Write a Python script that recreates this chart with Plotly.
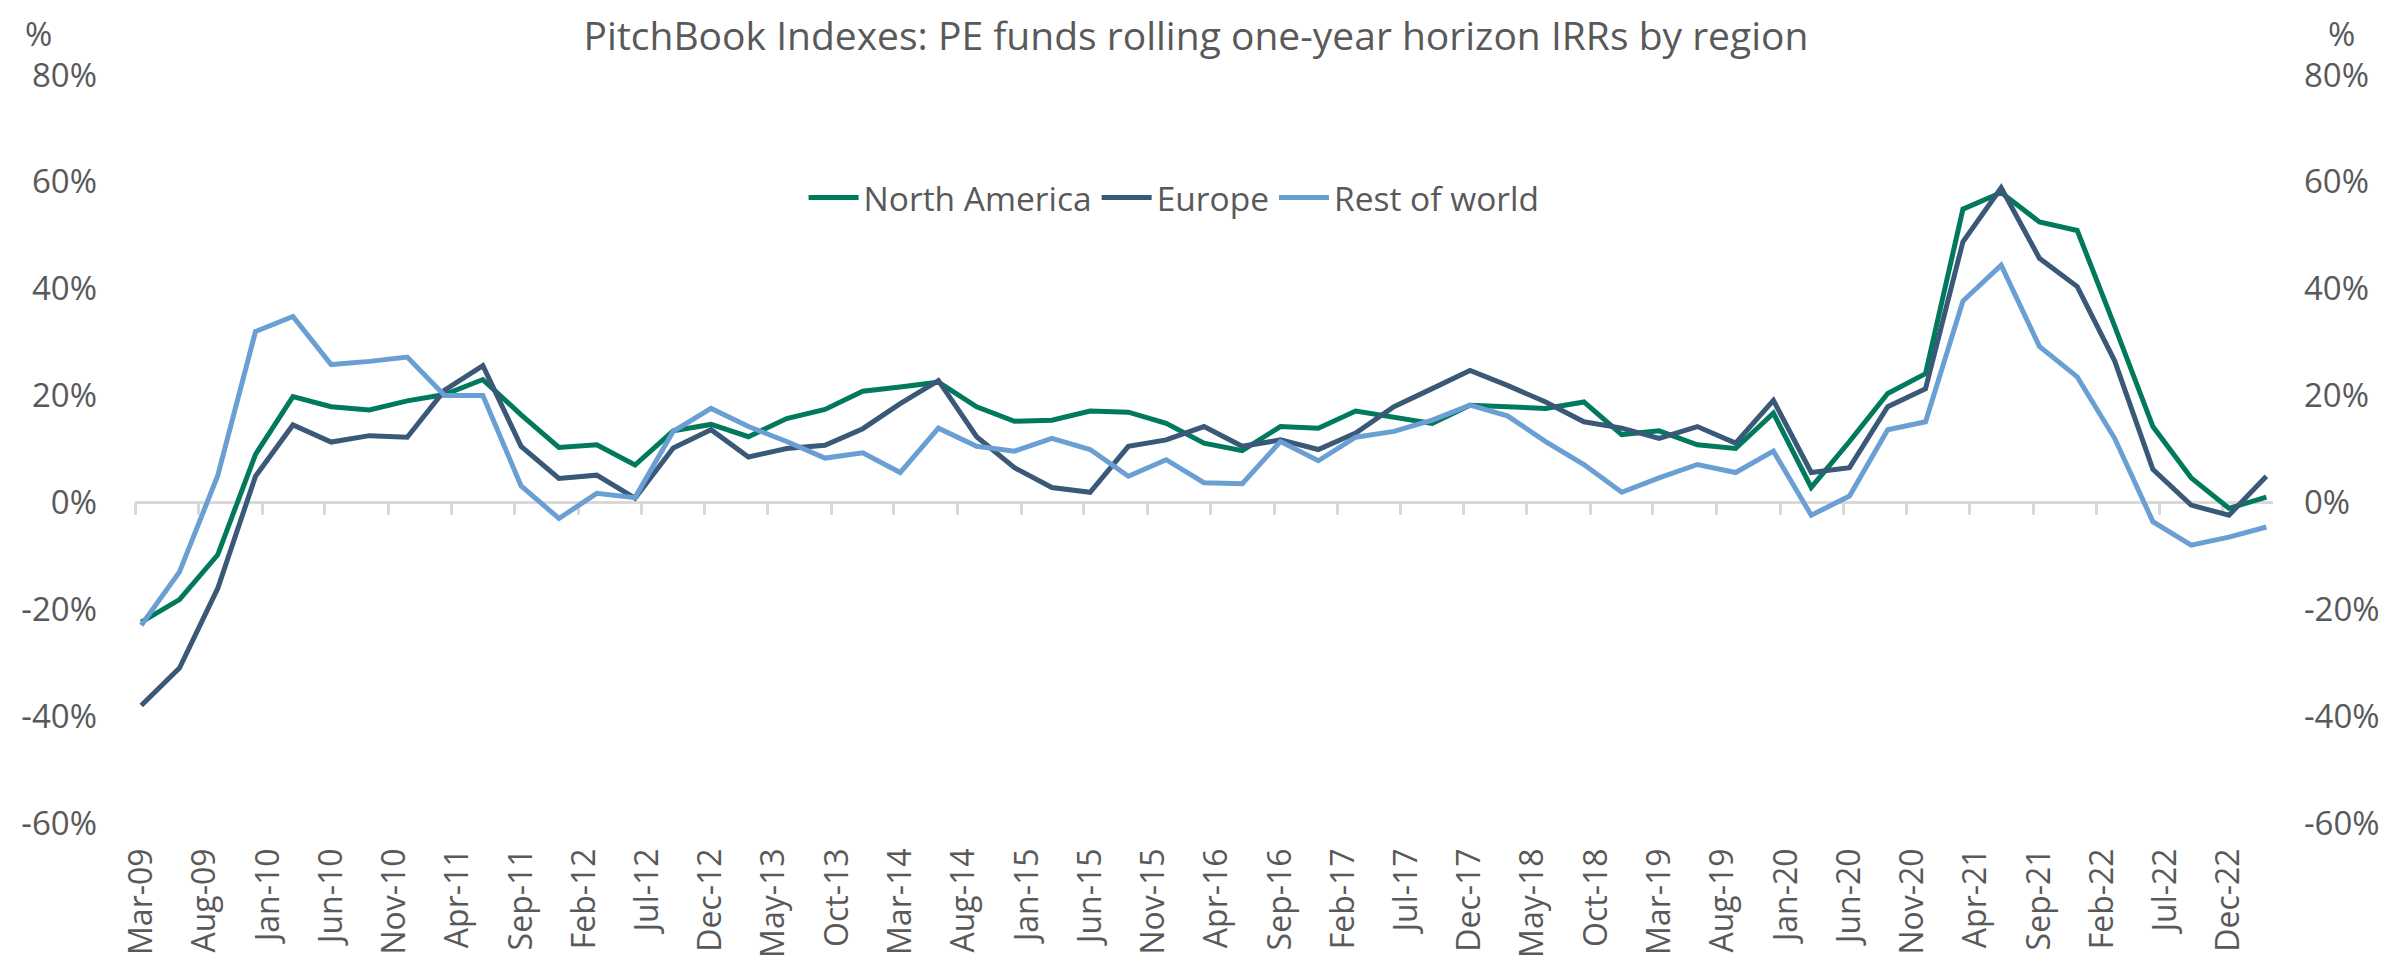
import pandas as pd
import plotly.graph_objects as go

# Quarter-end dates (Mar-09 .. Mar-23)
quarters = [f"{y}-{m:02d}" for y in range(2009, 2024) for m in (3, 6, 9, 12)]
quarters = [q for q in quarters if "2009-03" <= q <= "2023-03"]

north_america = [-22.4, -18.2, -9.8, 9.0, 19.8, 17.9, 17.3, 19.0, 20.2, 23.0,
                 16.4, 10.3, 10.8, 7.0, 13.4, 14.6, 12.3, 15.7, 17.4, 20.8,
                 21.6, 22.5, 17.9, 15.2, 15.4, 17.1, 16.9, 14.8, 11.1, 9.7,
                 14.2, 13.9, 17.1, 16.0, 14.8, 18.2, 18.0, 17.6, 18.8, 12.7,
                 13.4, 10.8, 10.1, 16.7, 2.8, 11.4, 20.4, 24.1, 54.9, 58.0,
                 52.5, 50.9, 33.0, 14.2, 4.6, -1.1, 1.0]
europe = [-38.0, -31.0, -16.1, 4.9, 14.5, 11.3, 12.5, 12.2, 21.0, 25.6,
          10.5, 4.5, 5.1, 0.8, 10.2, 13.6, 8.5, 10.1, 10.7, 13.8,
          18.5, 22.8, 12.3, 6.5, 2.8, 1.9, 10.5, 11.7, 14.2, 10.5,
          11.7, 9.9, 13.0, 17.9, 21.3, 24.7, 21.9, 18.8, 15.1, 13.9,
          12.0, 14.2, 11.1, 19.1, 5.6, 6.5, 17.9, 21.3, 48.8, 58.9,
          45.7, 40.4, 26.5, 6.2, -0.5, -2.4, 4.9]
rest_of_world = [-23.0, -13.0, 5.0, 32.0, 34.8, 25.8, 26.4, 27.2, 20.0, 20.0,
                 3.1, -3.0, 1.7, 0.9, 13.3, 17.6, 14.2, 11.4, 8.3, 9.3,
                 5.6, 13.9, 10.5, 9.6, 12.0, 9.9, 4.9, 8.0, 3.7, 3.5,
                 11.4, 7.8, 12.2, 13.3, 15.4, 18.2, 16.2, 11.4, 7.1, 1.9,
                 4.6, 7.1, 5.6, 9.6, -2.4, 1.2, 13.6, 15.1, 37.7, 44.4,
                 29.2, 23.5, 12.0, -3.6, -8.0, -6.5, -4.6]

x_tick_labels = ["Mar-09", "Aug-09", "Jan-10", "Jun-10", "Nov-10", "Apr-11", "Sep-11",
                 "Feb-12", "Jul-12", "Dec-12", "May-13", "Oct-13", "Mar-14", "Aug-14",
                 "Jan-15", "Jun-15", "Nov-15", "Apr-16", "Sep-16", "Feb-17", "Jul-17",
                 "Dec-17", "May-18", "Oct-18", "Mar-19", "Aug-19", "Jan-20", "Jun-20",
                 "Nov-20", "Apr-21", "Sep-21", "Feb-22", "Jul-22", "Dec-22"]
y_tick_values = [-60, -40, -20, 0, 20, 40, 60, 80]
y_tick_labels = ["-60%", "-40%", "-20%", "0%", "20%", "40%", "60%", "80%"]

names = ["North America", "Europe", "Rest of world"]
colors = ["#00795C", "#3A5878", "#6A9FD3"]
series = [north_america, europe, rest_of_world]

# month-centred positions (Excel date axis, base unit = month)
x_dates = [pd.Timestamp(q + "-01") + pd.Timedelta(days=15) for q in quarters]
month_starts = [pd.to_datetime(l, format="%b-%y") for l in x_tick_labels]
label_pos = [d + pd.Timedelta(days=15) for d in month_starts]

FONT = "Open Sans"
GREY = "#595959"

fig = go.Figure()
for n, c, s in zip(names, colors, series):
    fig.add_trace(go.Scatter(x=x_dates, y=s, name=n, mode="lines",
                             line=dict(color=c, width=5)))
# invisible companion trace for secondary axes (tick marks at 0 & right labels)
fig.add_trace(go.Scatter(x=x_dates, y=rest_of_world, xaxis="x2", yaxis="y2",
                         mode="lines", line=dict(width=0, color="rgba(0,0,0,0)"),
                         showlegend=False, hoverinfo="skip"))

xrange = ["2009-03-01", "2023-04-01"]
yrange = [-60, 80]

fig.update_layout(
    width=2387, height=962,
    margin=dict(l=127, r=122, t=67, b=139),
    paper_bgcolor="white", plot_bgcolor="white",
    font=dict(family=FONT, size=33, color=GREY),
    title=dict(text="PitchBook Indexes: PE funds rolling one-year horizon IRRs by region",
               x=0.4977, xanchor="center", y=1 - 28 / 962, yanchor="middle",
               yref="container", font=dict(family=FONT, size=39, color=GREY)),
    showlegend=True,
    legend=dict(orientation="h", x=0.486, xanchor="center", y=0.836, yanchor="middle",
                font=dict(family=FONT, size=33.5, color=GREY), bgcolor="rgba(0,0,0,0)",
                itemwidth=50, tracegroupgap=0),
    xaxis=dict(type="date", range=xrange, showgrid=False, zeroline=False, showline=False,
               tickmode="array", tickvals=label_pos, ticktext=x_tick_labels,
               tickangle=-90, ticks="", ticklabelstandoff=18,
               tickfont=dict(family=FONT, size=32, color=GREY)),
    xaxis2=dict(type="date", range=xrange, overlaying="x", anchor="free",
                position=60 / 140, showgrid=False, zeroline=False, showline=False,
                tickmode="array", tickvals=month_starts, showticklabels=False,
                ticks="outside", ticklen=12, tickwidth=2.5, tickcolor="#D9D9D9",
                layer="below traces"),
    yaxis=dict(range=yrange, showgrid=False, zeroline=True, zerolinecolor="#D9D9D9",
               zerolinewidth=2.5, showline=False, ticks="",
               tickmode="array", tickvals=y_tick_values, ticktext=y_tick_labels,
               ticklabelstandoff=37, tickfont=dict(family=FONT, size=33, color=GREY)),
    yaxis2=dict(range=yrange, overlaying="y", side="right", anchor="x", showgrid=False,
                zeroline=False, showline=False, ticks="",
                tickmode="array", tickvals=y_tick_values, ticktext=y_tick_labels,
                ticklabelstandoff=30, tickfont=dict(family=FONT, size=33, color=GREY)),
    annotations=[
        dict(text="%", xref="paper", yref="paper", x=(30 - 127) / 2138, y=(823 - 25) / 756,
             showarrow=False, xanchor="center", yanchor="middle",
             font=dict(family=FONT, size=33, color=GREY)),
        dict(text="%", xref="paper", yref="paper", x=(2333 - 127) / 2138, y=(823 - 25) / 756,
             showarrow=False, xanchor="center", yanchor="middle",
             font=dict(family=FONT, size=33, color=GREY)),
    ],
)

fig.write_html("out.html")
